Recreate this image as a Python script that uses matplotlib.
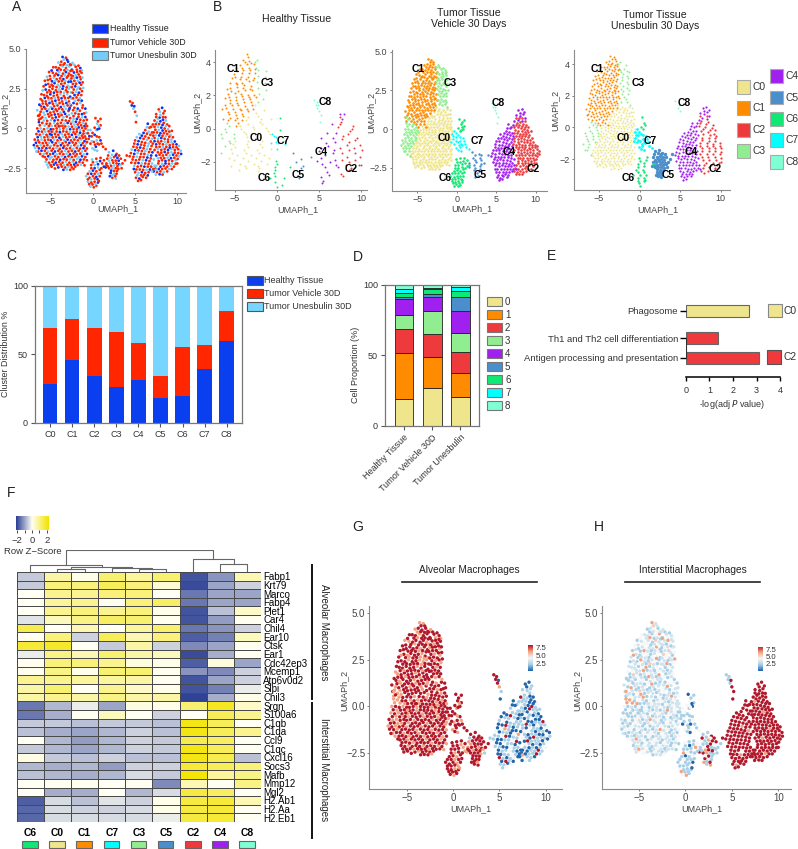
from itertools import cycle
import numpy as np
import matplotlib
matplotlib.use("Agg")
import matplotlib.pyplot as plt
from matplotlib.colors import LinearSegmentedColormap
from matplotlib.patches import Rectangle

plt.rcParams['font.family'] = ['Liberation Sans', 'DejaVu Sans']
W, H = 798, 849

# UMAP cells, one list per cluster
c0_pts = [(-2.6,1.45),(-2.2,1.3),(-1.8,1.25),(-2.9,1.1),(-2.5,0.95),(-2.1,0.95),(-1.7,0.9),(-1.3,0.9),(-3.5,0.7),(-3.1,0.75),
    (-2.7,0.65),(-2.3,0.6),(-1.9,0.6),(-1.5,0.55),(-1.1,0.5),(-3.8,0.35),(-3.4,0.3),(-3.0,0.35),(-2.6,0.3),(-2.2,0.25),
    (-1.8,0.25),(-1.4,0.2),(-1.0,0.15),(-4.7,-0.05),(-4.3,0.0),(-3.9,-0.05),(-3.5,0.0),(-3.1,-0.05),(-2.7,-0.05),(-2.3,-0.05),
    (-1.9,-0.05),(-1.5,-0.1),(-1.1,-0.15),(-4.9,-0.4),(-4.5,-0.35),(-4.1,-0.4),(-3.7,-0.35),(-3.3,-0.4),(-2.9,-0.35),(-2.5,-0.4),
    (-2.1,-0.35),(-1.7,-0.4),(-1.3,-0.45),(-0.95,-0.5),(-5.0,-0.75),(-4.6,-0.7),(-4.2,-0.75),(-3.8,-0.7),(-3.4,-0.75),(-3.0,-0.7),
    (-2.6,-0.75),(-2.2,-0.7),(-1.8,-0.75),(-1.4,-0.7),(-1.0,-0.8),(-5.4,-1.05),(-5.0,-1.1),(-4.6,-1.05),(-4.2,-1.1),(-3.8,-1.05),
    (-3.4,-1.1),(-3.0,-1.05),(-2.6,-1.1),(-2.2,-1.05),(-1.8,-1.1),(-1.4,-1.05),(-1.0,-1.1),(-5.7,-1.4),(-5.3,-1.45),(-4.9,-1.4),
    (-4.5,-1.45),(-4.1,-1.4),(-3.7,-1.45),(-3.3,-1.4),(-2.9,-1.45),(-2.5,-1.4),(-2.1,-1.45),(-1.7,-1.4),(-1.3,-1.45),(-0.9,-1.4),
    (-5.7,-1.8),(-5.3,-1.75),(-4.9,-1.8),(-4.5,-1.75),(-4.1,-1.8),(-3.7,-1.75),(-3.3,-1.8),(-2.9,-1.75),(-2.5,-1.8),(-2.1,-1.75),
    (-1.7,-1.8),(-1.3,-1.75),(-0.9,-1.8),(-5.6,-2.1),(-5.2,-2.15),(-4.8,-2.1),(-4.4,-2.15),(-4.0,-2.1),(-3.6,-2.15),(-3.2,-2.1),
    (-2.8,-2.15),(-2.4,-2.1),(-2.0,-2.15),(-1.6,-2.1),(-1.2,-2.15),(-5.3,-2.45),(-4.9,-2.4),(-4.1,-2.45),(-3.7,-2.4),(-3.3,-2.45),
    (-2.9,-2.4),(-2.5,-2.45),(-2.1,-2.4)]
c0_more = [(-2.75,1.3),(-2.35,1.15),(-1.95,1.08),(-1.55,1.12),(-1.25,1.3),(-3.3,0.92),(-2.85,0.85),(-2.3,0.78),(-1.72,0.73),(-1.28,0.7),(-0.9,0.72),
    (-3.65,0.53),(-3.22,0.5),(-2.83,0.47),(-2.4,0.44),(-2.02,0.42),(-1.6,0.38),(-1.2,0.34),(-0.85,0.3),(-4.45,0.17),(-4.05,0.14),(-3.62,0.16),
    (-3.28,0.13),(-2.88,0.12),(-2.48,0.11),(-2.06,0.09),(-1.68,0.07),(-1.28,0.04),(-0.88,0.0),(-4.72,-0.22),(-4.31,-0.19),(-3.92,-0.23),(-3.52,-0.18),
    (-3.13,-0.21),(-2.72,-0.2),(-2.3,-0.24),(-1.92,-0.2),(-1.52,-0.27),(-1.12,-0.32),(-0.78,-0.3),(-4.78,-0.56),(-4.38,-0.53),(-3.98,-0.58),(-3.55,-0.52),
    (-3.18,-0.56),(-2.78,-0.53),(-2.36,-0.58),(-1.98,-0.54),(-1.58,-0.6),(-1.18,-0.58),(-0.82,-0.65),(-5.22,-0.91),(-4.82,-0.87),(-4.4,-0.92),(-4.02,-0.88),
    (-3.6,-0.93),(-3.22,-0.86),(-2.8,-0.91),(-2.4,-0.88),(-2.02,-0.93),(-1.6,-0.88),(-1.2,-0.92),(-0.82,-0.95),(-5.52,-1.25),(-5.13,-1.22),(-4.72,-1.27),
    (-4.33,-1.23),(-3.92,-1.28),(-3.52,-1.22),(-3.13,-1.27),(-2.72,-1.24),(-2.33,-1.28),(-1.92,-1.23),(-1.52,-1.27),(-1.12,-1.24),(-0.72,-1.26),(-5.82,-1.6),
    (-5.48,-1.57),(-5.08,-1.62),(-4.72,-1.58),(-4.3,-1.63),(-3.92,-1.58),(-3.5,-1.62),(-3.12,-1.59),(-2.72,-1.63),(-2.3,-1.58),(-1.92,-1.62),(-1.5,-1.58),
    (-1.1,-1.63),(-0.7,-1.6),(-5.5,-1.95),(-5.1,-1.92),(-4.68,-1.97),(-4.3,-1.93),(-3.88,-1.97),(-3.48,-1.93),(-3.1,-1.96),(-2.7,-1.94),(-2.28,-1.98),
    (-1.88,-1.93),(-1.48,-1.97),(-1.08,-1.95),(-0.72,-2.0),(-5.42,-2.28),(-5.02,-2.3),(-4.62,-2.27),(-4.22,-2.3),(-3.82,-2.27),(-3.42,-2.3),(-3.02,-2.28),
    (-2.62,-2.3),(-2.22,-2.27),(-1.82,-2.3),(-1.42,-2.28),(-1.0,-2.32),(-4.5,-2.52),(-3.5,-2.6),(-3.1,-2.58),(-2.7,-2.6),(-2.3,-2.55),
    (-0.8,1.0),(-0.9,1.25),(-1.05,0.95),(-0.72,0.55),(-0.7,0.15),(-0.6,-0.1)]
c1_pts = [(-3.6,4.5),(-3.2,4.45),(-4.1,4.15),(-3.75,4.2),(-3.35,4.1),(-2.95,4.2),(-4.4,3.85),(-4.05,3.8),(-3.6,3.9),(-3.2,3.8),
    (-2.8,3.9),(-2.5,3.7),(-4.75,3.5),(-4.35,3.45),(-4.0,3.55),(-3.55,3.45),(-3.2,3.55),(-2.85,3.45),(-5.05,3.1),(-4.65,3.2),
    (-4.3,3.1),(-3.9,3.15),(-3.5,3.1),(-3.1,3.2),(-2.75,3.05),(-5.3,2.8),(-4.9,2.75),(-4.55,2.85),(-4.15,2.75),(-3.75,2.8),
    (-3.35,2.85),(-3.0,2.7),(-5.6,2.45),(-5.2,2.4),(-4.8,2.5),(-4.4,2.4),(-4.0,2.45),(-3.6,2.5),(-3.2,2.4),(-2.85,2.5),
    (-5.8,2.1),(-5.45,2.05),(-5.05,2.15),(-4.65,2.05),(-4.25,2.1),(-3.85,2.15),(-3.45,2.05),(-3.05,2.15),(-2.7,2.0),(-6.0,1.75),
    (-5.6,1.7),(-5.25,1.8),(-4.85,1.7),(-4.45,1.75),(-4.05,1.8),(-3.65,1.7),(-3.25,1.8),(-2.85,1.7),(-6.15,1.4),(-5.8,1.35),
    (-5.4,1.45),(-5.0,1.35),(-4.6,1.4),(-4.2,1.45),(-3.8,1.35),(-3.4,1.4),(-3.0,1.45),(-6.2,1.05),(-5.85,1.0),(-5.45,1.1),
    (-5.05,1.0),(-4.65,1.05),(-4.25,1.1),(-3.85,1.0),(-3.45,1.05),(-6.0,0.7),(-5.6,0.65),(-5.2,0.75),(-4.8,0.65),(-4.4,0.7),
    (-4.0,0.75),(-5.1,0.3),(-4.6,0.35),(-4.2,0.3)]
c1_more = [(-3.45,4.33),(-3.05,4.32),(-3.85,4.0),(-3.48,4.02),(-3.08,3.98),(-2.72,4.03),(-4.22,3.67),(-3.82,3.7),(-3.38,3.66),(-3.02,3.68),(-2.66,3.62),
    (-4.55,3.33),(-4.12,3.36),(-3.72,3.3),(-3.32,3.34),(-2.95,3.3),(-2.6,3.35),(-4.85,2.97),(-4.46,3.0),(-4.06,2.96),(-3.68,2.99),(-3.28,3.0),(-2.9,2.93),
    (-5.12,2.62),(-4.72,2.66),(-4.32,2.6),(-3.92,2.63),(-3.52,2.66),(-3.12,2.58),(-2.72,2.62),(-5.42,2.27),(-5.02,2.3),(-4.62,2.25),(-4.22,2.29),(-3.82,2.3),
    (-3.42,2.25),(-3.02,2.3),(-2.62,2.28),(-5.7,1.92),(-5.3,1.94),(-4.92,1.9),(-4.52,1.93),(-4.12,1.95),(-3.72,1.9),(-3.32,1.93),(-2.92,1.92),(-2.55,1.88),
    (-5.95,1.57),(-5.55,1.55),(-5.15,1.6),(-4.75,1.55),(-4.35,1.58),(-3.95,1.6),(-3.55,1.55),(-3.15,1.6),(-2.75,1.56),(-6.05,1.22),(-5.65,1.25),(-5.22,1.2),
    (-4.82,1.24),(-4.42,1.2),(-4.02,1.25),(-3.62,1.2),(-3.22,1.24),(-2.82,1.2),(-6.3,0.88),(-5.72,0.85),(-5.32,0.9),(-4.92,0.84),(-4.52,0.88),(-4.12,0.9),
    (-3.72,0.85),(-5.82,0.5),(-5.42,0.48),(-4.98,0.52),(-4.55,0.5),(-4.15,0.53),(-3.95,0.15),(-4.9,0.15),
    (-4.7,3.85),(-4.9,3.65),(-5.2,3.55),(-5.1,3.3),(-5.45,3.25),(-5.35,3.05),(-5.7,3.0),(-5.6,2.75),(-5.85,2.65),(-5.95,2.4),(-6.1,2.15),(-6.2,1.85),(-6.35,1.5),(-6.6,1.15),(-6.5,0.8),(-6.4,0.55)]
c2_pts = [(7.6,0.4),(8.0,0.45),(8.4,0.35),(8.8,0.25),(7.3,0.1),(7.7,0.1),(8.1,0.05),(8.5,0.0),(8.9,-0.05),(7.2,-0.25),
    (7.6,-0.25),(8.0,-0.3),(8.4,-0.3),(8.8,-0.35),(9.2,-0.4),(7.3,-0.6),(7.7,-0.65),(8.1,-0.6),(8.5,-0.65),(8.9,-0.7),
    (9.3,-0.7),(7.1,-0.95),(7.5,-1.0),(7.9,-0.95),(8.3,-1.0),(8.7,-1.0),(9.1,-1.05),(9.5,-1.0),(9.9,-1.0),(7.3,-1.35),
    (7.7,-1.3),(8.1,-1.35),(8.5,-1.3),(8.9,-1.35),(9.3,-1.3),(9.7,-1.35),(10.1,-1.3),(10.4,-1.4),(7.5,-1.7),(7.9,-1.65),
    (8.3,-1.7),(8.7,-1.65),(9.1,-1.7),(9.5,-1.65),(9.9,-1.7),(10.2,-1.75),(7.8,-2.05),(8.2,-2.0),(8.6,-2.05),(9.0,-2.0),
    (9.4,-2.05),(9.8,-2.0),(10.0,-2.2),(7.5,-2.35),(8.0,-2.4),(8.4,-2.35),(8.8,-2.4),(9.2,-2.35),(9.6,-2.4),(7.2,-2.7),
    (7.6,-2.75),(8.0,-2.7),(8.4,-2.75),(8.8,-2.7)]
c2_more = [(7.5,0.72),(7.9,0.68),(8.3,0.72),(8.65,0.5),(7.45,0.27),(7.85,0.28),(8.25,0.22),(8.65,0.15),(9.05,0.15),(7.4,-0.08),(7.8,-0.1),(8.25,-0.13),
    (8.65,-0.17),(9.05,-0.2),(9.35,-0.15),(7.45,-0.43),(7.85,-0.44),(8.25,-0.46),(8.65,-0.48),(9.05,-0.52),(9.48,-0.55),(7.3,-0.8),(7.7,-0.82),(8.1,-0.8),
    (8.5,-0.83),(8.9,-0.85),(9.3,-0.87),(9.7,-0.82),(7.5,-1.17),(7.9,-1.15),(8.3,-1.18),(8.7,-1.16),(9.1,-1.2),(9.5,-1.17),(9.9,-1.18),(10.2,-1.1),(7.7,-1.5),
    (8.1,-1.52),(8.5,-1.48),(8.9,-1.52),(9.3,-1.5),(9.7,-1.52),(10.1,-1.55),(10.45,-1.6),(7.7,-1.87),(8.05,-1.85),(8.45,-1.87),(8.85,-1.84),(9.25,-1.87),
    (9.65,-1.84),(10.05,-1.92),(7.75,-2.2),(8.2,-2.22),(8.6,-2.2),(9.0,-2.22),(9.4,-2.2),(9.8,-2.22),(7.4,-2.52),(7.8,-2.55),(8.2,-2.55),(8.6,-2.52),(9.0,-2.55),
    (9.35,-2.55),(7.45,-2.9),(7.9,-2.88),(8.25,-2.9)]
c3_pts = [(-2.6,4.0),(-2.2,4.0),(-1.9,3.7),(-1.5,3.8),(-2.45,3.65),(-2.4,3.3),(-2.05,3.35),(-1.7,3.4),(-1.35,3.5),(-2.6,2.95),
    (-2.2,3.0),(-1.8,3.0),(-1.45,3.1),(-2.5,2.6),(-2.1,2.65),(-1.7,2.6),(-1.4,2.75),(-2.4,2.25),(-2.0,2.3),(-1.65,2.25),
    (-1.3,2.35),(-2.35,1.9),(-1.95,1.95),(-1.55,1.9),(-2.3,1.6),(-1.9,1.55),(-1.5,1.6),(-6.4,0.8),(-6.0,0.35),(-6.4,0.4),
    (-5.5,0.3),(-6.6,0.0),(-6.2,0.0),(-5.8,-0.05),(-5.4,0.0),(-5.0,-0.05),(-6.7,-0.35),(-6.3,-0.4),(-5.9,-0.35),(-5.5,-0.4),
    (-5.1,-0.35),(-6.9,-0.7),(-6.5,-0.75),(-6.1,-0.7),(-5.7,-0.75),(-5.3,-0.7),(-7.0,-1.05),(-6.6,-1.1),(-6.2,-1.05),(-5.8,-1.1),
    (-6.5,-1.45),(-6.1,-1.4)]
c3_more = [(-2.42,4.12),(-2.05,3.88),(-1.72,3.95),(-1.32,3.65),(-2.25,3.52),(-1.88,3.55),(-1.52,3.6),(-2.55,3.15),(-2.22,3.18),(-1.9,3.2),(-1.55,3.25),
    (-1.25,3.2),(-2.38,2.8),(-2.0,2.82),(-1.58,2.88),(-1.22,2.9),(-2.28,2.45),(-1.88,2.46),(-1.5,2.5),(-1.15,2.55),(-2.18,2.1),(-1.78,2.12),(-1.38,2.1),
    (-2.1,1.75),(-1.72,1.78),(-1.33,1.75),(-1.2,1.45),(-6.2,0.62),(-5.72,0.18),(-6.3,0.2),(-5.22,0.15),(-6.45,-0.18),(-6.05,-0.2),(-5.65,-0.2),(-5.25,-0.18),
    (-4.9,-0.2),(-6.55,-0.55),(-6.15,-0.52),(-5.75,-0.56),(-5.35,-0.52),(-5.15,-0.55),(-6.75,-0.9),(-6.35,-0.88),(-5.95,-0.92),(-5.55,-0.9),(-6.85,-1.22),
    (-6.4,-1.25),(-6.0,-1.22),(-6.7,-1.45),(-6.25,-1.6),(-5.95,-1.75)]
c4_pts = [(6.5,0.3),(6.9,0.1),(6.2,-0.1),(6.6,-0.2),(7.0,-0.25),(5.5,-0.35),(5.8,-0.45),(6.2,-0.5),(6.6,-0.6),(7.0,-0.65),
    (5.0,-0.75),(5.4,-0.8),(5.8,-0.85),(6.2,-0.9),(6.6,-0.95),(4.8,-1.15),(5.2,-1.2),(5.6,-1.2),(6.0,-1.25),(6.4,-1.3),
    (6.8,-1.3),(4.5,-1.55),(4.9,-1.6),(5.3,-1.55),(5.7,-1.6),(6.1,-1.6),(6.5,-1.65),(6.9,-1.7),(4.7,-1.95),(5.1,-2.0),
    (5.5,-1.95),(5.9,-2.0),(6.3,-2.0),(6.7,-2.05),(4.9,-2.35),(5.3,-2.4),(5.7,-2.35),(6.1,-2.4),(6.5,-2.4),(6.9,-2.4),
    (7.3,-2.35),(5.0,-2.75),(5.4,-2.8),(5.8,-2.75),(6.2,-2.8),(6.6,-2.75),(7.0,-2.7),(5.1,-3.1),(5.5,-3.15),(5.9,-3.05),
    (6.3,-3.1),(7.5,-2.6),(7.5,0.9),(7.8,1.2),(8.2,1.3),(8.5,1.1),(8.0,0.85),(8.6,0.7),(7.3,0.5),(8.3,0.55),(7.7,0.6)]
c4_more = [(7.1,0.25),(6.7,0.05),(6.4,0.08),(6.0,-0.28),(6.4,-0.33),(6.8,-0.4),(7.15,-0.45),(5.2,-0.55),(5.6,-0.6),(6.0,-0.65),(6.4,-0.72),(6.85,-0.82),
    (4.9,-0.95),(5.3,-1.0),(5.7,-1.02),(6.1,-1.07),(6.5,-1.12),(6.95,-1.1),(4.6,-1.33),(5.0,-1.37),(5.4,-1.38),(5.8,-1.42),(6.2,-1.43),(6.65,-1.48),(7.05,-1.5),
    (4.35,-1.75),(4.8,-1.78),(5.2,-1.78),(5.6,-1.8),(6.0,-1.8),(6.45,-1.83),(6.85,-1.88),(7.2,-1.95),(4.55,-2.15),(5.0,-2.18),(5.4,-2.17),(5.8,-2.2),(6.2,-2.2),
    (6.6,-2.23),(7.0,-2.2),(4.85,-2.55),(5.15,-2.58),(5.55,-2.58),(5.95,-2.6),(6.35,-2.6),(6.75,-2.58),(7.15,-2.55),(5.25,-2.95),(5.7,-2.95),(6.05,-2.92),
    (6.5,-2.95),(5.35,-3.3),(5.7,-3.25),(7.95,1.05),(8.35,0.95)]
c5_pts = [(1.9,-1.5),(2.4,-1.4),(2.8,-1.6),(1.7,-1.9),(2.1,-1.85),(2.5,-1.8),(2.9,-1.85),(3.3,-1.9),(1.6,-2.2),(2.0,-2.2),
    (2.4,-2.15),(2.8,-2.2),(3.1,-2.25),(1.9,-2.5),(2.3,-2.5),(2.7,-2.5),(3.0,-2.55),(2.1,-2.8),(2.5,-2.85),(2.8,-2.85),
    (2.3,-3.1),(2.7,-3.15),(1.5,-2.45),(3.4,-2.5),(4.0,-1.7)]
c5_more = [(1.8,-1.7),(2.25,-1.65),(2.7,-1.7),(3.1,-1.7),(1.9,-2.03),(2.3,-2.0),(2.7,-2.02),(3.05,-2.03),(1.75,-2.38),(2.15,-2.35),(2.5,-2.33),(2.9,-2.38),
    (3.25,-2.3),(2.15,-2.65),(2.5,-2.67),(2.85,-2.68),(2.3,-2.95),(2.65,-3.0),(2.0,-3.0),(3.5,-2.2),(3.8,-2.0)]
c6_pts = [(-0.8,-3.0),(-0.4,-3.1),(0.0,-3.0),(0.4,-3.05),(0.8,-3.0),(-0.6,-3.35),(-0.2,-3.4),(0.2,-3.35),(0.6,-3.4),(-0.3,-3.65),
    (0.1,-3.7),(0.4,-3.6),(-0.4,-2.7),(0.0,-2.65),(0.4,-2.7),(0.8,-2.6),(-0.2,-2.3),(0.2,-2.3),(0.6,-2.25),(1.1,-2.2),
    (-0.1,-1.95),(0.4,-1.9),(0.9,-1.85),(1.3,-2.4),(0.3,0.65),(0.9,0.6),(0.5,0.3),(0.9,0.2),(0.4,-0.1),(0.75,0.0),(0.2,0.05)]
c6_more = [(-0.6,-3.2),(-0.2,-3.2),(0.2,-3.15),(0.55,-3.2),(-0.45,-3.5),(-0.05,-3.52),(0.3,-3.5),(0.7,-3.3),(-0.6,-2.85),(-0.2,-2.85),(0.2,-2.85),(0.6,-2.85),
    (0.95,-2.8),(-0.2,-2.5),(0.2,-2.5),(0.6,-2.45),(1.0,-2.5),(0.0,-2.12),(0.45,-2.1),(0.85,-2.05),(1.3,-2.0),(1.6,-2.3),(0.6,0.45),(0.7,0.15),(0.55,-0.05)]
c7_pts = [(-0.6,-0.3),(-0.3,-0.1),(-0.5,-0.65),(-0.15,-0.5),(0.2,-0.4),(-0.3,-0.95),(0.1,-0.85),(0.45,-0.75),(0.75,-0.55),
    (-0.05,-1.25),(0.35,-1.15),(0.7,-1.0),(1.0,-0.95),(0.5,-1.4),(1.5,-1.3),(-0.42,-0.48),(-0.05,-0.28),(0.45,-0.5),(-0.15,-0.8),
    (0.25,-1.02),(0.55,-0.95),(0.9,-0.75),(1.2,-1.15),(0.2,-1.35),(-0.7,-0.85)]
c8_pts = [(4.4,1.7),(4.6,1.45),(4.8,1.25),(4.7,1.6),(5.0,1.05),(5.2,0.8),(4.9,1.4),(5.1,0.4)]
cluster_pts = [c0_pts + c0_more, c1_pts + c1_more, c2_pts + c2_more, c3_pts + c3_more, c4_pts + c4_more,
               c5_pts + c5_more, c6_pts + c6_more, c7_pts, c8_pts]

cluster_names = ["C0", "C1", "C2", "C3", "C4", "C5", "C6", "C7", "C8"]
cluster_colors = ["#efe58c", "#ff8c00", "#ee3a3d", "#90ee90", "#a020f0", "#4a8fcc", "#0ee874", "#00ffff", "#7fffd4"]

# sample per cell in panel A: b healthy, r vehicle, l unesbulin
a_samples = "rrbrlrrblrrlbrrrlbrlrrbrrlrlbrrlrbrrl"
a_colors = {"b": "#0a32f5", "r": "#ff2400", "l": "#74cdf8"}

# expression per cell for panels G and H (1 low ... 9 high)
g_levels = ["9979997999799997999979999799979", "7779999979997999979999799979997999799", "3311531933315313135113393153315531",
    "99799979999979997999799997977797997979799977997979797", "1335311931351331573113359133115331",
    "99979999799799997999997333", "9997999799799979999799979999799", "997999799799979", "99997311"]
h_levels = ["4354543543434745345434435344543454", "7434534435734543643454473435534543", "9999999999997999999999999999",
    "43547435434654543473543453477735343533353435355435334", "9999999995999999999979999999",
    "33953799359339733953379399359", "3533153335733135333753331", "353331533535315", "33339999"]

# panel C
c_healthy = [28.5, 46, 34, 26, 31, 18.5, 19.5, 39, 59.5]
c_vehicle = [40.5, 30, 35, 40, 27, 15.5, 35.5, 18, 22]
c_unesbulin = [31, 24, 31, 34, 42, 66, 45, 43, 18.5]

# panel D, stacks from cluster 0 up to cluster 8
d_samples = ["Healthy Tissue", "Tumor Vehicle 30D", "Tumor Unesbulin"]
d_healthy = [18.7, 32.7, 17.1, 10.2, 11.1, 1.9, 2.3, 3.0, 3.0]
d_vehicle = [26.5, 22.1, 16.8, 16.4, 9.4, 2.2, 3.8, 0.9, 1.9]
d_unesbulin = [20.1, 17.1, 14.9, 14.0, 15.2, 9.9, 4.8, 2.8, 1.2]

# panel E
e_terms = ["Phagosome", "Th1 and Th2 cell differentiation", "Antigen processing and presentation"]
e_values = [2.66, 1.38, 3.1]

# panel F
f_columns = ["C6", "C0", "C1", "C7", "C3", "C5", "C2", "C4", "C8"]
f_genes = ["Fabp1", "Krt79", "Marco", "Fabp4", "Plet1", "Car4", "Chil4", "Ear10", "Ctsk", "Ear1", "Cdc42ep3", "Mcemp1",
    "Atp6v0d2", "Slpi", "Chil3", "Srgn", "S100a6", "C1qb", "C1qa", "Ccl9", "C1qc", "Cxcl16", "Socs3", "Mafb", "Mmp12",
    "Mgl2", "H2.Ab1", "H2.Aa", "H2.Eb1"]
f_zscores = [
    [-0.6, 0.7, 0.1, 1.2, 0.8, 1.2, -1.9, -1.2, 0.6],
    [-0.6, 1.1, 1.1, 1.4, 1.1, 0.3, -2.0, -1.0, -0.5],
    [0.0, 0.9, 0.9, 1.1, 1.1, 0.0, -1.5, -1.0, -1.0],
    [0.0, 0.8, 0.9, 0.05, 1.1, 1.3, -1.5, -1.0, -1.0],
    [0.0, 0.9, 1.1, 0.9, 1.1, 0.1, -1.9, -0.7, 0.4],
    [-0.3, 0.5, 1.0, 1.3, 1.2, 0.05, -1.9, -1.1, 0.05],
    [1.5, 0.0, 0.6, 0.0, 0.8, 1.2, -1.5, -1.2, -0.5],
    [0.05, 1.1, -0.5, 1.4, 0.6, 1.1, -1.8, -1.4, 0.5],
    [1.7, 1.8, 0.0, -0.6, 0.7, -0.5, -1.3, -1.0, 0.03],
    [-0.2, 1.0, 0.6, 1.2, 0.7, 0.5, -2.0, -0.9, 0.03],
    [0.05, 1.1, 1.1, 0.9, 0.2, 0.1, -1.8, 0.2, -1.0],
    [0.05, 1.0, 0.1, 1.2, 1.2, 0.05, -1.2, -1.3, -0.5],
    [0.9, 0.9, 0.8, 0.8, 0.7, 0.02, -1.9, -1.0, -0.5],
    [0.7, 1.2, 0.0, 0.9, 0.4, 0.1, -1.9, -1.4, -0.2],
    [0.7, 0.9, 0.7, 1.0, 0.7, 0.7, -2.1, -0.9, 0.1],
    [-1.5, -0.8, -0.2, -1.0, 0.2, 0.1, 1.2, 1.9, 0.4],
    [-1.5, -0.9, 0.02, 0.5, 0.03, -0.5, 0.0, 1.4, 0.9],
    [-0.6, -0.6, -0.7, -0.6, -0.6, -0.7, 2.0, 1.4, 0.0],
    [-0.7, -0.9, -1.0, -0.8, -0.5, -0.7, 2.0, 1.4, 0.9],
    [0.0, -0.8, -1.1, -0.8, -0.5, -0.6, 1.5, 1.3, 0.03],
    [-0.6, -0.8, -1.0, -0.8, -0.5, -0.6, 2.0, 1.4, 0.03],
    [0.15, -0.6, -0.7, -0.5, -0.7, -0.7, 2.0, 1.5, -0.7],
    [-0.8, -0.9, -0.8, -1.1, -0.5, -0.5, 1.7, 1.4, 1.1],
    [-0.7, -0.8, -0.9, -0.8, -0.4, -0.6, 2.1, 0.8, 1.0],
    [0.0, 0.02, 0.03, 0.0, 0.02, -1.3, 0.6, 0.03, 1.0],
    [0.01, -0.9, -0.9, 0.0, -0.8, -0.4, 1.6, 1.3, 0.03],
    [-1.8, -0.4, -0.7, -0.3, -0.5, 0.1, 1.6, 1.7, 0.6],
    [-1.7, -0.4, -0.5, -0.5, -0.4, 0.1, 1.6, 1.7, 0.03],
    [-1.7, -0.4, -0.4, -0.4, -0.4, -0.2, 1.6, 1.7, 0.03],
]
# left node, right node, height; leaves are columns 0-8, new nodes count on from 9
f_merges = [(4, 5, 3), (3, 9, 4), (1, 2, 3.3), (11, 10, 4.7), (0, 12, 6.7), (7, 8, 7.7), (6, 14, 13.3), (13, 15, 21.7)]

fig = plt.figure(figsize=(W / 100, H / 100), dpi=100)

def pax(left, top, right, bottom):
    return fig.add_axes([left / W, 1 - bottom / H, (right - left) / W, (bottom - top) / H])

ov = fig.add_axes([0, 0, 1, 1], zorder=10)
ov.set_xlim(0, W)
ov.set_ylim(H, 0)
ov.axis("off")

def say(x, y, s, size=6.5, ha="center", color="#222222", **kw):
    ov.text(x, y, s, fontsize=size, ha=ha, va="center", color=color, **kw)

def swatch(x0, y0, x1, y1, color, edge="#777777"):
    ov.add_patch(Rectangle((x0, y0), x1 - x0, y1 - y0, facecolor=color, edgecolor=edge, lw=0.8))

def umap_axes(box, xlim, ylim, yticks, ylabels):
    ax = pax(*box)
    ax.set_xlim(*xlim)
    ax.set_ylim(*ylim)
    ax.set_xticks([-5, 0, 5, 10], ["\u22125", "0", "5", "10"])
    ax.set_yticks(yticks, ylabels)
    ax.tick_params(labelsize=6.5, length=1.5, width=0.6, color="#666666", labelcolor="#444444", pad=1.5)
    ax.spines[["top", "right"]].set_visible(False)
    ax.spines[["left", "bottom"]].set_color("#8a8a8a")
    ax.patch.set_alpha(0)
    return ax

tick5 = [-2.5, 0, 2.5, 5]

for x, y, s in [(17, 7, "A"), (217, 7, "B"), (11, 256, "C"), (358, 257, "D"), (552, 256, "E"), (11, 493, "F"), (358, 527, "G"), (599, 527, "H")]:
    say(x, y, s, size=10)

# Panel A
ax = umap_axes((25.7, 49, 186, 192.7), (-7.97, 11.03), (-4.04, 5.0), tick5, ["\u22122.5", "0", "2.5", "5.0"])
all_pts = [p for pts in cluster_pts for p in pts]
ax.scatter([p[0] for p in all_pts], [p[1] for p in all_pts], s=4, linewidths=0,
           c=[a_colors[k] for _, k in zip(all_pts, cycle(a_samples))])
for (y0, y1), col, name in zip([(24.3, 33.3), (38, 46.7), (51, 60)], ["#0a32f5", "#ff2400", "#74cdf8"],
                               ["Healthy Tissue", "Tumor Vehicle 30D", "Tumor Unesbulin 30D"]):
    swatch(92, y0, 108, y1, col)
    say(110, (y0 + y1) / 2, name, ha="left", size=6.4)
say(118, 209, "UMAPh_1", color="#444444")
say(4.7, 113, "UMAPh_2", rotation=90, color="#444444")

# Panel B
b_boxes = [(215, 50, 367, 190), (391.7, 50, 546.7, 191), (574, 50, 730, 190)]
b_xlims = [(-7.38, 10.7), (-8.24, 11.39), (-8.08, 11.15)]
b_ylims = [(-3.71, 4.74), (-4.0, 5.1), (-3.96, 4.9)]
b_steps = [[4, 2, 4, 4, 4, 6, 4, 3, 1], [1, 1, 1, 1, 1, 2, 1, 1, 1], [1, 1, 2, 2, 1, 1, 2, 1, 2]]
b_sizes = [[2, 2, 2, 2, 2, 2, 2, 2, 2], [3.5, 3.5, 3.5, 3.5, 3.5, 3, 3.5, 3, 2], [2, 2, 2.5, 2, 2.5, 6, 3, 4, 2]]
b_yticks = [([-2, 0, 2, 4], ["\u22122", "0", "2", "4"]), (tick5, ["\u22122.5", "0", "2.5", "5.0"]), ([-2, 0, 2, 4], ["\u22122", "0", "2", "4"])]
b_label_px = [
    [(255.7, 137.7), (233, 69), (350.7, 169), (266.7, 83), (320.7, 152.3), (298.3, 175), (264.3, 177.7), (283, 140.7), (325, 102)],
    [(443.7, 138.3), (418.3, 69), (532.7, 169.3), (450, 83.3), (509, 152.3), (480, 175), (445, 177.7), (477.7, 141), (498.7, 102.7)],
    [(623, 137.7), (596.7, 69), (715, 169), (637.7, 83.3), (691, 152.3), (667.7, 175), (627.7, 177.7), (650, 140.7), (684.3, 102.7)],
]
for k in range(3):
    ax = umap_axes(b_boxes[k], b_xlims[k], b_ylims[k], *b_yticks[k])
    for pts, col, step, size in zip(cluster_pts, cluster_colors, b_steps[k], b_sizes[k]):
        ax.scatter([p[0] for p in pts[::step]], [p[1] for p in pts[::step]], s=size, color=col, linewidths=0)
    for (x, y), name in zip(b_label_px[k], cluster_names):
        say(x, y, name, size=7.5, fontweight="bold", color="black")
say(297, 19, "Healthy Tissue", size=7.6)
say(469, 18.5, "Tumor Tissue\nVehicle 30 Days", size=7.6)
say(655, 20.5, "Tumor Tissue\nUnesbulin 30 Days", size=7.6)
for x, y, rot in [(298, 210, 0), (196.7, 112, 90), (471.7, 209, 0), (370.7, 112, 90), (658, 209.7, 0), (555, 110, 90)]:
    say(x, y, "UMAPh_" + ("2" if rot else "1"), rotation=rot, color="#444444")
b_legend_px = [(736.7, 80), (736.7, 101), (736.7, 123), (736.7, 144), (770, 69), (770, 90.7), (770, 112), (770, 133), (770, 155)]
for (x, y), name, col in zip(b_legend_px, cluster_names, cluster_colors):
    swatch(x, y, x + 13, y + 13.5, col, edge="#aaaaaa")
    say(x + 15.5, y + 7, name, ha="left", size=7.4, color="#333333")

# Panel C
ax = pax(35, 285.7, 241.7, 423)
xs = np.arange(len(cluster_names))
ax.bar(xs, c_healthy, width=0.665, color="#0a3ff0")
ax.bar(xs, c_vehicle, width=0.665, bottom=c_healthy, color="#ff2600")
ax.bar(xs, c_unesbulin, width=0.665, bottom=np.add(c_healthy, c_vehicle), color="#76d6ff")
ax.set_xlim(-0.68, 8.68)
ax.set_ylim(0, 100)
ax.set_xticks(xs, cluster_names)
ax.set_yticks([0, 50, 100])
ax.tick_params(labelsize=6.5, length=3, width=0.8, color="#555555", labelcolor="#333333", pad=2)
for sp in ax.spines.values():
    sp.set_color("#777777")
    sp.set_linewidth(0.9)
say(6, 354, "Cluster Distribution %", rotation=90, size=6.4, color="#333333")
for y0, col, name in zip([276, 289.3, 302.3], ["#0a3ff0", "#ff2600", "#76d6ff"], ["Healthy Tissue", "Tumor Vehicle 30D", "Tumor Unesbulin 30D"]):
    swatch(246.7, y0, 262.7, y0 + 8.7, col, edge="#555555")
    say(264.5, y0 + 4.5, name, ha="left", size=6.5, color="#333333")

# Panel D
ax = pax(385, 285, 479.3, 425.7)
d_table = np.array([d_healthy, d_vehicle, d_unesbulin])
bottoms = np.zeros(3)
for i, col in enumerate(cluster_colors):
    ax.bar(range(3), d_table[:, i], width=0.665, bottom=bottoms, color=col, edgecolor="#222222", linewidth=0.6)
    bottoms = bottoms + d_table[:, i]
ax.set_xlim(-0.67, 2.67)
ax.set_ylim(0, 100)
ax.set_yticks([0, 50, 100])
ax.set_xticks(range(3))
ax.set_xticklabels(d_samples, rotation=45, ha="right", rotation_mode="anchor")
ax.tick_params(labelsize=6.5, length=3, width=0.8, color="#555555", labelcolor="#333333", pad=2)
for sp in ax.spines.values():
    sp.set_color("#777777")
    sp.set_linewidth(0.9)
say(356, 365, "Cell Proportion (%)", rotation=90, size=6.5, color="#333333")
for i, col in enumerate(cluster_colors):
    swatch(487, 297.3 + 13 * i, 502.3, 306 + 13 * i, col)
    say(505, 301.7 + 13 * i, str(i), ha="left", size=7, color="#333333")

# Panel E, y in this axes runs in pixels
ax = pax(685.7, 295, 780.3, 377.3)
e_rows = [310.5, 338.3, 357.5]
ax.barh(e_rows, e_values, height=12, color=[cluster_colors[0], cluster_colors[2], cluster_colors[2]], edgecolor="#666666", linewidth=0.8)
ax.plot([0, 0], e_rows[1:], color="#333333", lw=0.8)
ax.set_xlim(0, 4)
ax.set_ylim(377.3, 295)
ax.set_xticks(range(5))
ax.set_yticks(e_rows, e_terms)
ax.tick_params(axis="x", labelsize=6.5, length=3, width=1, labelcolor="#333333", pad=3)
ax.tick_params(axis="y", labelsize=6.8, length=4, width=1, labelcolor="#333333", pad=1.5)
ax.spines[["top", "right", "left"]].set_visible(False)
ax.spines["bottom"].set_linewidth(1.1)
ax.patch.set_alpha(0)
say(732, 404, "-log(adj $\\mathit{P}$ value)", size=6.5, color="#333333")
swatch(768.3, 304, 781.7, 317.3, cluster_colors[0], edge="#888888")
say(783.5, 311, "C0", ha="left", size=7.4, color="#333333")
swatch(767.3, 350, 781, 363.7, cluster_colors[2], edge="#555555")
say(783, 357, "C2", ha="left", size=7.4, color="#333333")

# Panel F
heat_cmap = LinearSegmentedColormap.from_list("heat", ["#263a92", "#fffff4", "#f3e300"])
ax = pax(16.7, 572, 261, 822)
ax.pcolormesh(np.array(f_zscores), cmap=heat_cmap, vmin=-2.2, vmax=2.2, edgecolors="#4a4a4a", linewidth=0.5)
ax.set_ylim(len(f_genes), 0)
ax.set_xticks(np.arange(9) + 0.5, f_columns, fontweight="bold", fontsize=7.4)
ax.set_yticks(np.arange(len(f_genes)) + 0.5, f_genes, fontsize=7)
ax.yaxis.tick_right()
ax.tick_params(length=0, pad=1.5)
ax.tick_params(axis="x", pad=4.5)
for sp in ax.spines.values():
    sp.set_visible(False)

col_idx = [cluster_names.index(c) for c in f_columns]
for i, c in enumerate(col_idx):
    left = 16.7 + 27.14 * i + 5.5
    swatch(left, 840.7, left + 15.5, 848.3, cluster_colors[c], edge="#666666")

dax = pax(16.7, 550, 261, 572)
dax.set_xlim(0, 9)
dax.set_ylim(0, 22)
dax.axis("off")
node_x = {i: i + 0.5 for i in range(9)}
node_h = {i: 0 for i in range(9)}
for n, (a, b, height) in enumerate(f_merges):
    dax.plot([node_x[a], node_x[a], node_x[b], node_x[b]], [node_h[a], height, height, node_h[b]], color="#666666", lw=0.8)
    node_x[9 + n] = (node_x[a] + node_x[b]) / 2
    node_h[9 + n] = height

cax = pax(16, 516, 48.7, 530)
cax.imshow(np.linspace(-2.16, 2.26, 200)[None, :], aspect="auto", cmap=heat_cmap, vmin=-2.2, vmax=2.2, extent=(-2.16, 2.26, 0, 1))
cax.set_yticks([])
cax.set_xticks([-2, -1, 0, 1, 2], ["\u22122", "", "0", "", "2"])
cax.tick_params(labelsize=6.8, length=2.5, width=0.5, pad=1.5, labelcolor="#333333")
for sp in cax.spines.values():
    sp.set_visible(False)
say(33, 551, "Row Z\u2212Score", size=6.8, color="#333333")

ov.plot([312, 312], [564.7, 699.3], color="#111111", lw=1.4)
ov.plot([312, 312], [702.7, 837.7], color="#111111", lw=1.4)
say(324, 632, "Alveolar Macrophages", rotation=-90, size=7)
say(324, 770, "Interstitial Macrophages", rotation=-90, size=7)

# Panels G and H
expr_cmap = LinearSegmentedColormap.from_list("expr", ["#2166ac", "#a9d0e6", "#f7f7f7", "#f4a582", "#b2182b"])

def expr_panel(box, xlim, levels):
    ax = umap_axes(box, xlim, (-4.42, 5.41), tick5, ["\u22122.5", "0.0", "2.5", "5.0"])
    px, py, pv = [], [], []
    for pts, lev in zip(cluster_pts, levels):
        for (x, y), d in zip(pts, cycle(lev)):
            px.append(x)
            py.append(y)
            pv.append(int(d))
    ax.scatter(px, py, c=pv, cmap=expr_cmap, vmin=1, vmax=9, s=6, linewidths=0)
    ax.tick_params(labelsize=7)
    return ax

expr_panel((369.3, 605.7, 562.3, 788.7), (-9.03, 11.79), g_levels)
expr_panel((602.3, 605.7, 791, 788.7), (-8.95, 11.37), h_levels)

say(469.7, 570, "Alveolar Macrophages", size=7.3)
ov.plot([402.3, 537], [582.3, 582.3], color="#222222", lw=1.2)
say(693, 570, "Interstitial Macrophages", size=7.3)
ov.plot([625.3, 760.3], [582.3, 582.3], color="#222222", lw=1.2)
say(471, 809, "UMAPh_1", color="#444444")
say(344, 690, "UMAPh_2", rotation=90, color="#444444")
say(702, 809, "UMAPh_1", color="#444444")
say(576.7, 690, "UMAPh_2", rotation=90, color="#444444")

for x0, y0, y1, label_ys in [(528.3, 645.3, 670.7, (649, 657, 665)), (758.3, 646.7, 671, (650, 657.7, 665))]:
    gax = pax(x0, y0, x0 + 5, y1)
    gax.imshow(np.linspace(9, 1, 60)[:, None], aspect="auto", cmap=expr_cmap, vmin=1, vmax=9)
    gax.axis("off")
    for y, s in zip(label_ys, ["7.5", "5.0", "2.5"]):
        say(x0 + 7.5, y, s, ha="left", size=5.6, color="#333333")

plt.savefig("out.png", dpi=100)
plt.close()
